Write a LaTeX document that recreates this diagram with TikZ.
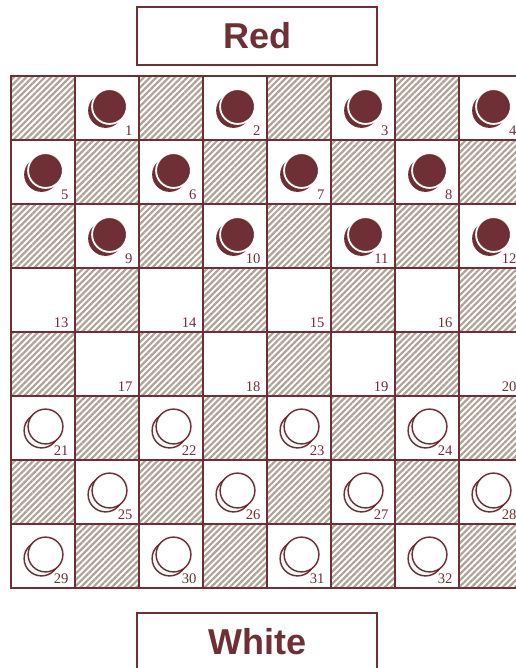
\documentclass[tikz,border=0pt]{standalone}
\usepackage{fontspec}
\setmainfont{Liberation Serif}
\newfontfamily\labelsans{Liberation Sans}
\usetikzlibrary{patterns.meta}
\definecolor{maroon}{HTML}{6E3034}
\definecolor{hatch}{HTML}{B0A398}

\begin{document}
\begin{tikzpicture}[x=1cm,y=1cm,
    square/.style={draw=maroon,line width=0.9pt,minimum size=1cm,inner sep=0pt,outer sep=0pt},
    darksq/.style={square,pattern={Lines[angle=45,distance=1.95pt,line width=1.0pt]},pattern color=hatch},
    lightsq/.style={square,fill=white},
    sidebox/.style={draw=maroon,line width=0.9pt,minimum width=3.75cm,minimum height=0.91cm,
      text=maroon,font=\labelsans\fontsize{16}{18}\selectfont\bfseries},
    sqnum/.style={anchor=base east,inner sep=0pt,text=maroon,font=\fontsize{6.5}{7}\selectfont}]
  \useasboundingbox (0,0) rectangle (8.0625,10.4375);
  \clip (0,0) rectangle (8.0625,10.4375);
  \pgfmathsetmacro{\rad}{0.272}

  % player boxes
  \node[sidebox] (red) at (4.016,9.875) {\raisebox{-1.6pt}{Red}};
  \node[sidebox] (white) at (4.016,0.406) {\raisebox{-1.2pt}{White}};

  % board
  \foreach \r in {0,...,7}
    \foreach \c in {0,...,7} {
      \pgfmathtruncatemacro{\odd}{mod(\r+\c,2)}
      \pgfmathtruncatemacro{\k}{4*\r+floor(\c/2)+1}
      \ifnum\odd=0
        \node[darksq] (sq-\r-\c) at ({0.672+\c},{8.75-\r}) {};
      \else
        \node[lightsq] (sq-\r-\c) at ({0.672+\c},{8.75-\r}) {};
        \node[sqnum] (n\k) at ([shift={(-0.095,0.075)}]sq-\r-\c.south east) {\k};
        % pieces
        \ifnum\r<3
          \fill[maroon] ([shift={(-0.023,-0.039)}]sq-\r-\c.center) circle (\rad);
          \filldraw[fill=maroon,draw=white,line width=0.8pt]
            ([shift={(0.039,0.023)}]sq-\r-\c.center) circle (\rad);
        \fi
        \ifnum\r>4
          \filldraw[fill=white,draw=maroon,line width=0.65pt]
            ([shift={(-0.023,-0.039)}]sq-\r-\c.center) circle (\rad);
          \filldraw[fill=white,draw=maroon,line width=0.65pt]
            ([shift={(0.039,0.023)}]sq-\r-\c.center) circle (\rad);
        \fi
      \fi
    }
\end{tikzpicture}
\end{document}
